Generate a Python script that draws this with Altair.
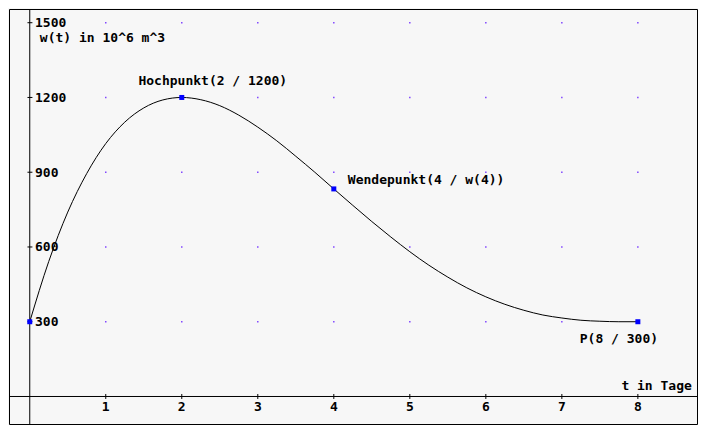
import altair as alt
import pandas as pd

# values
t_vals = [0, 0.25, 0.5, 0.75, 1, 1.25, 1.5, 1.75, 2, 2.25, 2.5, 2.75, 3, 3.25, 3.5, 3.75,
          4, 4.25, 4.5, 4.75, 5, 5.25, 5.5, 5.75, 6, 6.25, 6.5, 6.75, 7, 7.25, 7.5, 7.75, 8]
w_vals = [300, 542, 740, 895, 1015, 1101, 1158, 1190, 1200, 1191, 1167, 1129, 1081, 1026, 964, 900,
          833, 767, 702, 640, 581, 527, 479, 436, 400, 370, 346, 327, 315, 306, 302, 300, 300]

marker_t = [0, 2, 4, 8]
marker_w = [300, 1200, 833, 300]

x_ticks = [1, 2, 3, 4, 5, 6, 7, 8]
y_ticks = [300, 600, 900, 1200, 1500]

ann_text = ["Hochpunkt(2 / 1200)", "Wendepunkt(4 / w(4))", "P(8 / 300)", "w(t) in 10^6 m^3"]
ann_t = [1.43, 4.185, 7.236, 0.133]
ann_w = [1251, 851, 216, 1424]

X_DOM = [-0.273, 8.778]
Y_DOM = [-110.4, 1555]

xs = alt.Scale(domain=X_DOM, nice=False, zero=False)
ys = alt.Scale(domain=Y_DOM, nice=False, zero=False)

FONT = "DejaVu Sans Mono"

curve_df = pd.DataFrame({"t": t_vals, "w": w_vals})
mark_df = pd.DataFrame({"t": marker_t, "w": marker_w})
grid_df = pd.DataFrame([{"t": a, "w": b} for a in x_ticks for b in y_ticks])
xt_df = pd.DataFrame({"t": x_ticks, "lo": [-10] * len(x_ticks), "hi": [10] * len(x_ticks),
                      "lab": [str(v) for v in x_ticks], "zero": [0] * len(x_ticks)})
yt_df = pd.DataFrame({"w": y_ticks, "lo": [-0.03] * len(y_ticks), "hi": [0.035] * len(y_ticks),
                      "lab": [str(v) for v in y_ticks], "lx": [0.069] * len(y_ticks)})
ann_df = pd.DataFrame({"t": ann_t, "w": ann_w, "txt": ann_text})
xlab_df = pd.DataFrame({"t": [8.71], "w": [28], "txt": ["t in Tage"]})
axis_df = pd.DataFrame({"z": [0]})

X = lambda f: alt.X(f, type="quantitative", scale=xs, axis=None)
Y = lambda f: alt.Y(f, type="quantitative", scale=ys, axis=None)

grid = alt.Chart(grid_df).mark_square(size=2, color="#7a3cff", opacity=1).encode(x=X("t"), y=Y("w"))

yaxis = alt.Chart(axis_df).mark_rule(color="black", strokeWidth=1).encode(x=X("z"))
xaxis = alt.Chart(axis_df).mark_rule(color="black", strokeWidth=1).encode(y=Y("z"))

xt = alt.Chart(xt_df).mark_rule(color="black", strokeWidth=1).encode(x=X("t"), y=Y("lo"), y2="hi")
yt = alt.Chart(yt_df).mark_rule(color="black", strokeWidth=1).encode(y=Y("w"), x=X("lo"), x2="hi")

txt_kw = dict(font=FONT, fontSize=13, fontWeight="bold", color="black")

xl = alt.Chart(xt_df).mark_text(align="center", baseline="alphabetic", dy=15, **txt_kw).encode(
    x=X("t"), y=Y("zero"), text="lab:N")
yl = alt.Chart(yt_df).mark_text(align="left", baseline="alphabetic", dy=4.5, **txt_kw).encode(
    x=X("lx"), y=Y("w"), text="lab:N")

curve = alt.Chart(curve_df).mark_line(color="black", strokeWidth=1, interpolate="monotone").encode(
    x=X("t"), y=Y("w"))
marks = alt.Chart(mark_df).mark_square(size=25, color="#0000ff", opacity=1).encode(x=X("t"), y=Y("w"))

ann = alt.Chart(ann_df).mark_text(align="left", baseline="alphabetic", **txt_kw).encode(
    x=X("t"), y=Y("w"), text="txt:N")
xlab = alt.Chart(xlab_df).mark_text(align="right", baseline="alphabetic", **txt_kw).encode(
    x=X("t"), y=Y("w"), text="txt:N")

chart = alt.layer(grid, yaxis, xaxis, xt, yt, xl, yl, curve, marks, ann, xlab).properties(
    width=688, height=415,
    padding={"left": 1, "top": 1, "right": 1, "bottom": 1},
    autosize=alt.AutoSizeParams(type="none"),
    background="#f7f7f7",
).configure_view(stroke="black", strokeWidth=1, fill="#f7f7f7")

chart.save("out.html", embed_options={"renderer": "svg", "actions": False})
